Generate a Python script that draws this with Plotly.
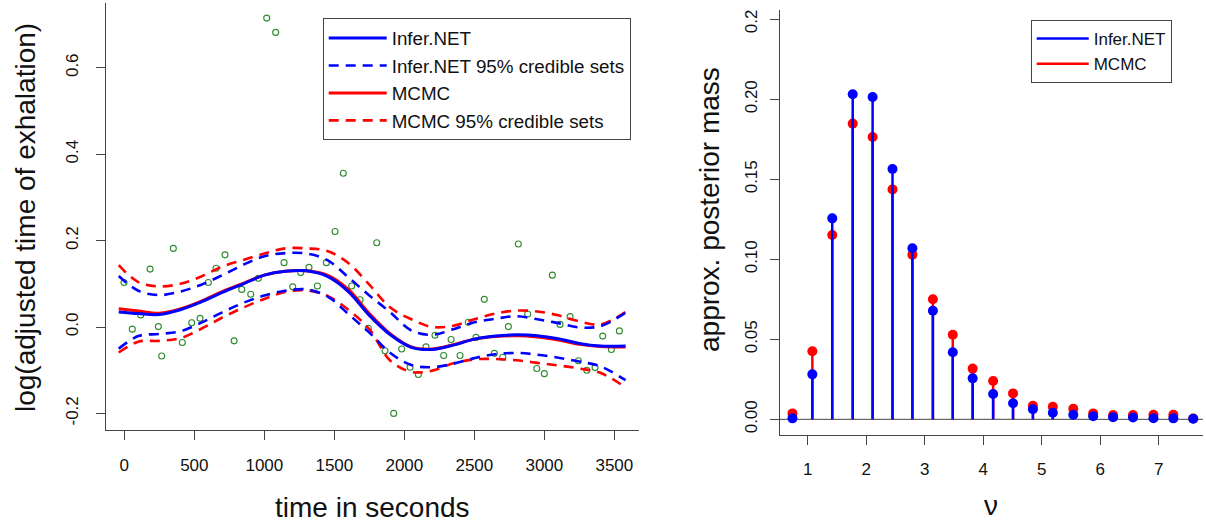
import plotly.graph_objects as go

# ---------------- data: left panel ----------------
obs_time = [-2, 57, 117, 184, 243, 267, 350, 414, 481, 541, 600, 655, 719, 784, 839, 903, 957,
            1017, 1081, 1141, 1203, 1260, 1319, 1379, 1443, 1505, 1564, 1624, 1684, 1743, 1803,
            1862, 1924, 1981, 2041, 2100, 2155, 2219, 2281, 2334, 2398, 2457, 2512, 2571, 2643,
            2703, 2743, 2814, 2881, 2946, 3000, 3057, 3112, 3184, 3243, 3303, 3362, 3417, 3479, 3536]
obs_logtime = [0.103, -0.005, 0.028, 0.134, 0.001, -0.067, 0.182, -0.036, 0.010, 0.020, 0.103, 0.136,
               0.167, -0.032, 0.087, 0.076, 0.113, 0.715, 0.682, 0.149, 0.093, 0.126, 0.138, 0.095,
               0.149, 0.221, 0.356, 0.095, 0.063, -0.003, 0.195, -0.055, -0.200, -0.051, -0.093,
               -0.110, -0.046, -0.019, -0.066, -0.029, -0.066, 0.011, -0.024, 0.064, -0.061, -0.070,
               0.001, 0.192, 0.030, -0.096, -0.108, 0.120, 0.006, 0.024, -0.078, -0.100, -0.094,
               -0.021, -0.052, -0.009]

grid_time = [-40, 100, 250, 400, 550, 700, 850, 1000, 1150, 1300, 1450, 1600, 1750, 1900, 2050,
             2200, 2350, 2500, 2650, 2800, 2950, 3100, 3250, 3400, 3580]
infer_mean = [0.035, 0.031, 0.029, 0.040, 0.058, 0.080, 0.100, 0.120, 0.129, 0.130, 0.117, 0.082,
              0.027, -0.018, -0.047, -0.052, -0.042, -0.028, -0.021, -0.018, -0.020, -0.027, -0.038,
              -0.044, -0.044]
infer_upper = [0.118, 0.084, 0.074, 0.082, 0.098, 0.120, 0.144, 0.164, 0.171, 0.170, 0.155, 0.115,
               0.073, 0.034, -0.008, -0.018, -0.005, 0.011, 0.019, 0.025, 0.018, 0.009, -0.001,
               0.002, 0.033]
infer_lower = [-0.050, -0.021, -0.016, -0.010, 0.010, 0.034, 0.056, 0.073, 0.084, 0.087, 0.071, 0.030,
               -0.013, -0.060, -0.088, -0.093, -0.085, -0.072, -0.063, -0.060, -0.064, -0.071, -0.080,
               -0.091, -0.123]
mcmc_mean = [0.042, 0.037, 0.032, 0.042, 0.060, 0.082, 0.101, 0.120, 0.129, 0.130, 0.120, 0.087,
             0.031, -0.016, -0.046, -0.051, -0.041, -0.028, -0.022, -0.020, -0.023, -0.030, -0.040,
             -0.045, -0.046]
mcmc_upper = [0.143, 0.104, 0.094, 0.100, 0.117, 0.140, 0.155, 0.170, 0.182, 0.182, 0.176, 0.148,
              0.098, 0.045, 0.018, 0.000, 0.003, 0.018, 0.031, 0.038, 0.036, 0.027, 0.013, 0.006, 0.035]
mcmc_lower = [-0.059, -0.034, -0.032, -0.026, -0.004, 0.022, 0.045, 0.065, 0.081, 0.085, 0.072, 0.040,
              -0.005, -0.078, -0.104, -0.101, -0.084, -0.075, -0.074, -0.077, -0.083, -0.089, -0.096,
              -0.106, -0.140]

left_xticks = [0, 500, 1000, 1500, 2000, 2500, 3000, 3500]
left_yticks = [-0.2, 0.0, 0.2, 0.4, 0.6]
left_yticktext = ["-0.2", "0.0", "0.2", "0.4", "0.6"]

# ---------------- data: right panel ----------------
nu = [0.74, 1.08, 1.42, 1.77, 2.11, 2.45, 2.79, 3.14, 3.48, 3.82, 4.17, 4.51, 4.85, 5.19, 5.54,
      5.88, 6.22, 6.56, 6.91, 7.25, 7.59]
infer_mass = [0.0006, 0.0281, 0.1256, 0.2031, 0.2014, 0.1564, 0.1069, 0.0679, 0.0419, 0.0256, 0.0158,
              0.0100, 0.0063, 0.0041, 0.0029, 0.0019, 0.0013, 0.0011, 0.0007, 0.0006, 0.0004]
mcmc_mass = [0.0037, 0.0425, 0.1152, 0.1848, 0.1764, 0.1437, 0.1029, 0.0750, 0.0529, 0.0317, 0.0239,
             0.0162, 0.0085, 0.0079, 0.0066, 0.0037, 0.0027, 0.0027, 0.0029, 0.0029, 0.0005]
right_xticks = [1, 2, 3, 4, 5, 6, 7]
right_yticks = [0.0, 0.05, 0.10, 0.15, 0.20, 0.25]
right_yticktext = ["0.00", "0.05", "0.10", "0.15", "0.20", "0.25"]

BLUE = "#0000FF"
RED = "#FF0000"
GREEN = "#2E8B2E"
AXC = "#444444"
FONT = "Arial, Liberation Sans, sans-serif"
W, H = 1206, 525

fig = go.Figure()

# ---- left panel traces (red first so blue lies on top) ----
fig.add_trace(go.Scatter(x=obs_time, y=obs_logtime, mode="markers", showlegend=False,
                         marker=dict(symbol="circle-open", size=6, color=GREEN, line=dict(width=1.1)),
                         xaxis="x", yaxis="y"))
fig.add_trace(go.Scatter(x=grid_time, y=mcmc_upper, mode="lines", name="MCMC 95% credible sets",
                         legendrank=4, line=dict(color=RED, width=2.6, dash="10px,7px", shape="spline"),
                         legend="legend", xaxis="x", yaxis="y"))
fig.add_trace(go.Scatter(x=grid_time, y=mcmc_lower, mode="lines", showlegend=False,
                         line=dict(color=RED, width=2.6, dash="10px,7px", shape="spline"),
                         xaxis="x", yaxis="y"))
fig.add_trace(go.Scatter(x=grid_time, y=mcmc_mean, mode="lines", name="MCMC", legendrank=3,
                         line=dict(color=RED, width=3, shape="spline"),
                         legend="legend", xaxis="x", yaxis="y"))
fig.add_trace(go.Scatter(x=grid_time, y=infer_upper, mode="lines", name="Infer.NET 95% credible sets",
                         legendrank=2, line=dict(color=BLUE, width=2.6, dash="10px,7px", shape="spline"),
                         legend="legend", xaxis="x", yaxis="y"))
fig.add_trace(go.Scatter(x=grid_time, y=infer_lower, mode="lines", showlegend=False,
                         line=dict(color=BLUE, width=2.6, dash="10px,7px", shape="spline"),
                         xaxis="x", yaxis="y"))
fig.add_trace(go.Scatter(x=grid_time, y=infer_mean, mode="lines", name="Infer.NET", legendrank=1,
                         line=dict(color=BLUE, width=3, shape="spline"),
                         legend="legend", xaxis="x", yaxis="y"))

# ---- right panel: stems + dots ----
def stems(xs, ys):
    sx, sy = [], []
    for a, b in zip(xs, ys):
        sx += [a, a, None]
        sy += [0, b, None]
    return sx, sy

rx, ry = stems(nu, mcmc_mass)
bx, by = stems(nu, infer_mass)
fig.add_trace(go.Scatter(x=rx, y=ry, mode="lines", name="MCMC", legendrank=2, legend="legend2",
                         line=dict(color=RED, width=2.5), xaxis="x2", yaxis="y2"))
fig.add_trace(go.Scatter(x=nu, y=mcmc_mass, mode="markers", showlegend=False, cliponaxis=False,
                         marker=dict(color=RED, size=10, line=dict(width=0)), xaxis="x2", yaxis="y2"))
fig.add_trace(go.Scatter(x=bx, y=by, mode="lines", name="Infer.NET", legendrank=1, legend="legend2",
                         line=dict(color=BLUE, width=2.5), xaxis="x2", yaxis="y2"))
fig.add_trace(go.Scatter(x=nu, y=infer_mass, mode="markers", showlegend=False, cliponaxis=False,
                         marker=dict(color=BLUE, size=10, line=dict(width=0)), xaxis="x2", yaxis="y2"))

axis_common = dict(showline=True, linecolor=AXC, linewidth=1, ticks="outside", ticklen=9,
                   tickcolor=AXC, tickwidth=1, showgrid=False, zeroline=False,
                   tickfont=dict(family=FONT, size=17, color="#111"), automargin=False)

fig.update_layout(
    width=W, height=H, autosize=False,
    margin=dict(l=0, r=0, t=0, b=0),
    paper_bgcolor="white", plot_bgcolor="white",
    font=dict(family=FONT, color="#111"),
    xaxis=dict(domain=[105.7 / W, 639 / W], range=[-133, 3676], tickvals=left_xticks,
               ticklabelstandoff=11, anchor="y", **axis_common),
    yaxis=dict(domain=[1 - 430 / H, 1 - 3 / H], range=[-0.2384, 0.75], tickvals=left_yticks,
               ticktext=left_yticktext, tickangle=-90, ticklabelstandoff=11, anchor="x",
               **axis_common),
    xaxis2=dict(domain=[780 / W, 1203 / W], range=[0.527, 7.757], tickvals=right_xticks,
                ticklabelstandoff=10, anchor="y2", **axis_common),
    yaxis2=dict(domain=[1 - 435 / H, 1 - 10 / H], range=[-0.0098, 0.2558], tickvals=right_yticks,
                ticktext=right_yticktext, tickangle=-90, ticklabelstandoff=6, anchor="x2",
                **axis_common),
    legend=dict(x=322.7 / W, y=1 - 18.3 / H, xanchor="left", yanchor="top",
                bgcolor="white", bordercolor=AXC, borderwidth=1, itemwidth=58,
                font=dict(family=FONT, size=18.8, color="#111"), traceorder="normal"),
    legend2=dict(x=1030.7 / W, y=1 - 20 / H, xanchor="left", yanchor="top",
                 bgcolor="white", bordercolor=AXC, borderwidth=1, itemwidth=52,
                 font=dict(family=FONT, size=17, color="#111"), traceorder="normal"),
    shapes=[
        dict(type="line", xref="x2 domain", yref="y2", x0=0, x1=1, y0=0, y1=0,
             line=dict(color=AXC, width=1), layer="below"),
        dict(type="rect", xref="paper", yref="paper", x0=730 / W, x1=770 / W, y0=1 - 10 / H, y1=1,
             fillcolor="white", line=dict(width=0), layer="above"),
    ],
    annotations=[
        dict(text="time in seconds", xref="paper", yref="paper", x=372 / W, y=1 - 507 / H,
             xanchor="center", yanchor="middle", showarrow=False,
             font=dict(family=FONT, size=28, color="#111")),
        dict(text="log(adjusted time of exhalation)", xref="paper", yref="paper", x=26 / W,
             y=1 - 218 / H, xanchor="center", yanchor="middle", textangle=-90, showarrow=False,
             font=dict(family=FONT, size=28, color="#111")),
        dict(text="ν", xref="paper", yref="paper", x=991.5 / W, y=1 - 505 / H,
             xanchor="center", yanchor="middle", showarrow=False,
             font=dict(family=FONT, size=28, color="#111")),
        dict(text="approx. posterior mass", xref="paper", yref="paper", x=709 / W, y=1 - 210 / H,
             xanchor="center", yanchor="middle", textangle=-90, showarrow=False,
             font=dict(family=FONT, size=28, color="#111")),
    ],
)

fig.write_html("out.html", config={"displayModeBar": False},
               post_script="document.body.style.margin='0';document.body.style.padding='0';")
